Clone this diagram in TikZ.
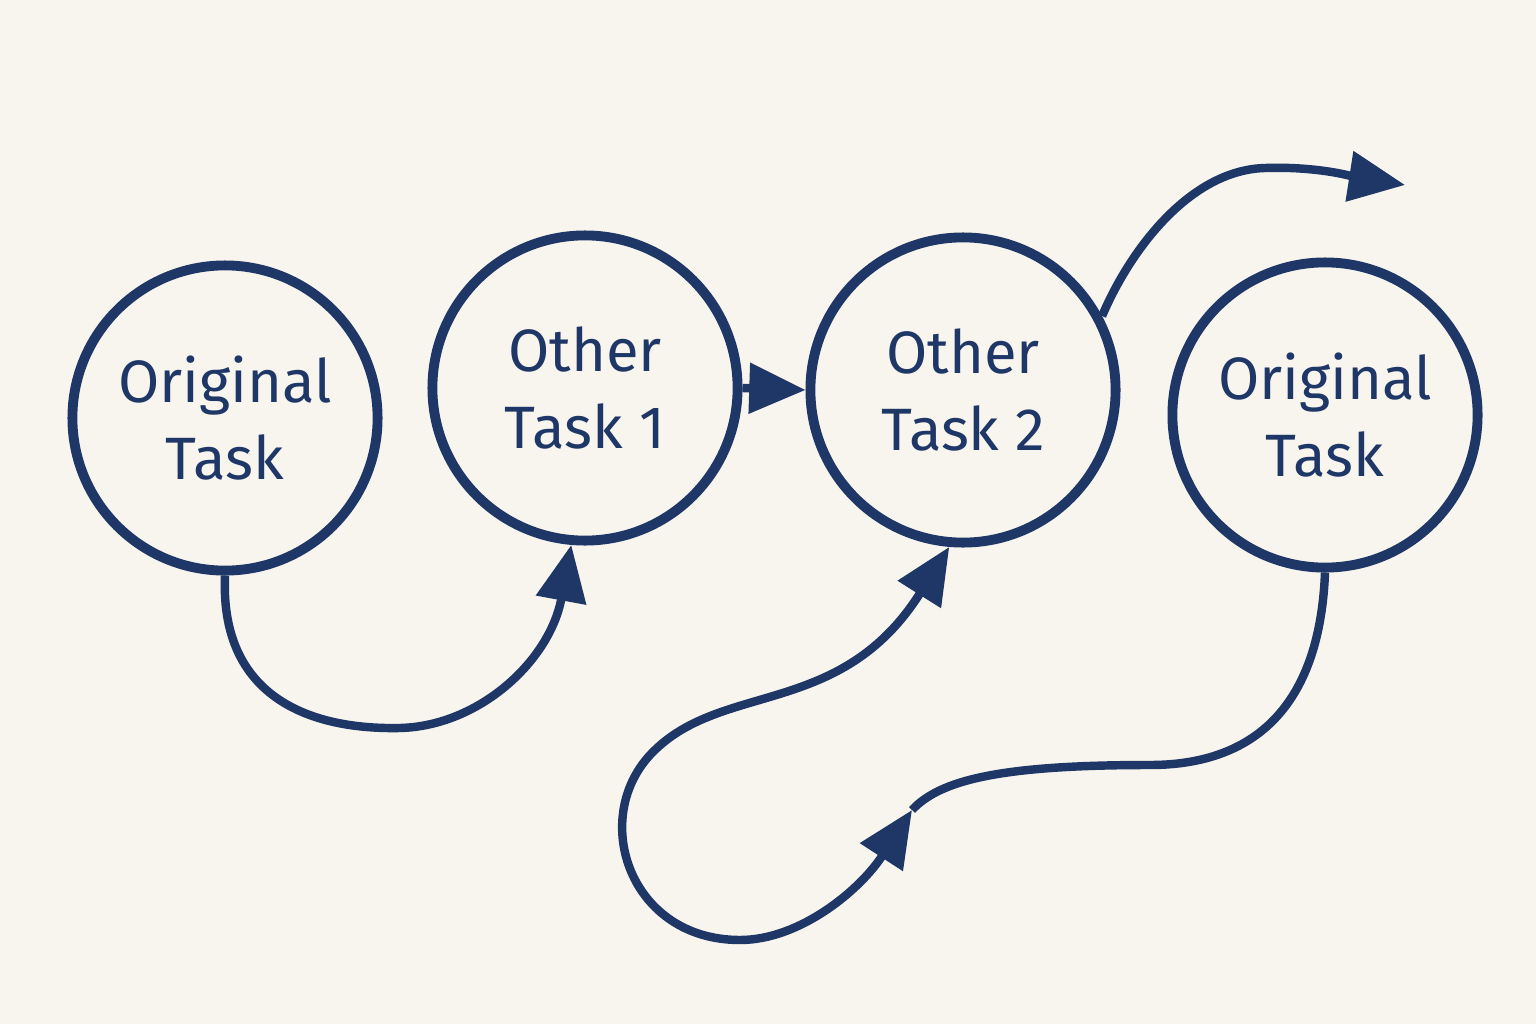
\documentclass[tikz,border=0pt]{standalone}
\usepackage{fontspec}
\setmainfont{Fira Sans}
\usetikzlibrary{arrows.meta}
\definecolor{ink}{HTML}{1F3767}
\definecolor{paper}{HTML}{F7F5EE}
\begin{document}
\begin{tikzpicture}[x=0.01cm,y=-0.01cm,
  task/.style={circle,draw=ink,line width=2.8pt,minimum size=3.05cm,inner sep=0pt,align=center,text=ink,font=\fontsize{17}{22}\selectfont},
  con/.style={draw=ink,line width=2.4pt},
  tip/.style={-{Triangle[length=16pt,width=14pt]}}]
\fill[paper] (0,0) rectangle (1536,1024);
\useasboundingbox (0,0) rectangle (1536,1024);
\node[task] (c1) at (225,418) {Original\\Task};
\node[task] (c2) at (585,388) {Other\\Task 1};
\node[task] (c3) at (963,390) {Other\\Task 2};
\node[task] (c4) at (1325,415) {Original\\Task};
\coordinate (m) at (912,810);
\coordinate (e) at (1405,185);
\draw[con,tip] (c1.270) .. controls (220,690) and (300,730) .. (400,728) .. controls (480,726) and (550,660) .. (c2.265);
\draw[con,tip] (c2.east) -- (c3.west);
\draw[con] (c4.270) .. controls (1320,700) and (1260,765) .. (1150,765) .. controls (1000,765) and (940,780) .. (m);
\draw[con,{Triangle[length=16pt,width=14pt]}-{Triangle[length=16pt,width=14pt]}] (m) .. controls (860,890) and (800,940) .. (740,940) .. controls (630,940) and (590,820) .. (650,755) .. controls (720,680) and (840,720) .. (c3.265);
\draw[con,tip] (c3.28) .. controls (1130,250) and (1190,170) .. (1265,168) .. controls (1320,166) and (1360,178) .. (e);
\end{tikzpicture}
\end{document}
